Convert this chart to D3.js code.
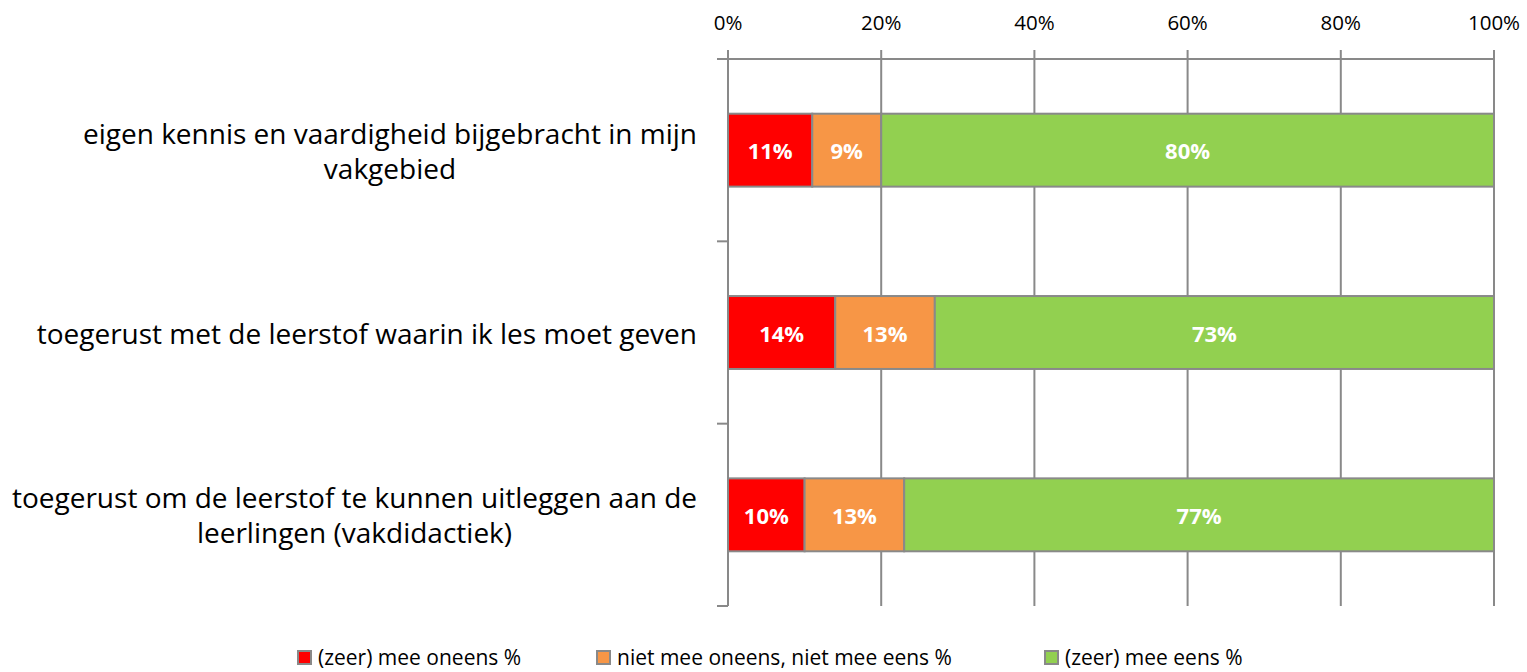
<!DOCTYPE html>
<html lang="nl">
<head>
<meta charset="UTF-8">
<title>Stacked bar</title>
<style>
  body { margin: 0; background: #fff; }
  svg { font-family: "Open Sans", "Noto Sans", sans-serif; }
  .grid line { stroke: #898989; stroke-width: 2px; }
  .lbl { fill: #fff; font-weight: bold; font-size: 22px; }
</style>
</head>
<body>
<div id="chart"></div>
<script src="https://d3js.org/d3.v7.min.js"></script>
<script>
const categories = [
  ["eigen kennis en vaardigheid bijgebracht in mijn", "vakgebied"],
  ["toegerust met de leerstof waarin ik les moet geven"],
  ["toegerust om de leerstof te kunnen uitleggen aan de", "leerlingen (vakdidactiek)"]
];
const seriesNames = ["(zeer) mee oneens %", "niet mee oneens, niet mee eens %", "(zeer) mee eens %"];
const oneens = [11, 14, 10];
const neutraal = [9, 13, 13];
const eens = [80, 73, 77];
const tickValues = [0, 20, 40, 60, 80, 100];
const colors = ["#FF0000", "#F79646", "#92D050"];

const W = 1527, H = 672;
const plotLeft = 728, plotRight = 1494, plotTop = 59, plotBottom = 606;

const svg = d3.select("#chart").append("svg").attr("width", W).attr("height", H);

const x = d3.scaleLinear().domain([0, 100]).range([plotLeft, plotRight]);
const y = d3.scaleBand().domain(d3.range(categories.length)).range([plotTop, plotBottom]).paddingInner(0.6).paddingOuter(0.3);

// vertical gridlines
svg.append("g").attr("class", "grid")
  .selectAll("line").data(tickValues).join("line")
  .attr("x1", d => x(d)).attr("x2", d => x(d))
  .attr("y1", plotTop - 9).attr("y2", plotBottom);

// top axis line
svg.append("line").attr("x1", plotLeft - 11).attr("x2", plotRight).attr("y1", plotTop).attr("y2", plotTop)
  .attr("stroke", "#898989").attr("stroke-width", 2);

// category separators
const step = y.step();
svg.append("g").selectAll("line").data(d3.range(1, categories.length + 1)).join("line")
  .attr("x1", plotLeft - 11).attr("x2", plotLeft)
  .attr("y1", d => plotTop + d * step).attr("y2", d => plotTop + d * step)
  .attr("stroke", "#898989").attr("stroke-width", 2);

// tick labels
svg.append("g").selectAll("text").data(tickValues).join("text")
  .attr("x", d => x(d)).attr("y", 30)
  .attr("text-anchor", "middle")
  .style("font-size", "20.5px").attr("fill", "#000")
  .text(d => d + "%");

// stacked bars
const rows = categories.map((c, i) => [oneens[i], neutraal[i], eens[i]]);
rows.forEach((vals, i) => {
  let acc = 0;
  const g = svg.append("g");
  vals.forEach((v, j) => {
    const x0 = x(acc), x1 = x(acc + v);
    g.append("rect")
      .attr("x", x0).attr("y", y(i))
      .attr("width", x1 - x0).attr("height", y.bandwidth())
      .attr("fill", colors[j]).attr("stroke", "#898989").attr("stroke-width", 2);
    g.append("text").attr("class", "lbl")
      .attr("x", (x0 + x1) / 2).attr("y", y(i) + y.bandwidth() / 2)
      .attr("text-anchor", "middle").attr("dominant-baseline", "central")
      .text(v + "%");
    acc += v;
  });
});

// category labels (centered block, right edge at 697)
categories.forEach((lines, i) => {
  const t = svg.append("text").style("font-size", "28px").attr("fill", "#000");
  const lh = 35;
  const cy = y(i) + y.bandwidth() / 2;
  const spans = lines.map((l, k) => t.append("tspan").text(l)
    .attr("y", cy + (k - (lines.length - 1) / 2) * lh).attr("dominant-baseline", "central"));
  const maxW = d3.max(spans, s => s.node().getComputedTextLength());
  spans.forEach(s => s.attr("x", 697 - maxW / 2).attr("text-anchor", "middle"));
});

// legend
const legendX = [298, 597, 1045];
const lg = svg.append("g");
seriesNames.forEach((n, j) => {
  lg.append("rect").attr("x", legendX[j]).attr("y", 651).attr("width", 13).attr("height", 13)
    .attr("fill", colors[j]).attr("stroke", "#898989").attr("stroke-width", 2);
  lg.append("text").attr("x", legendX[j] + 20).attr("y", 657)
    .attr("dominant-baseline", "central").style("font-size", "21px").text(n);
});
</script>
</body>
</html>
